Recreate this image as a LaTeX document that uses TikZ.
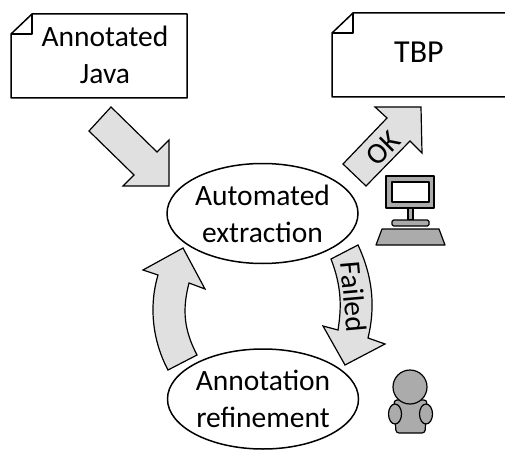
\documentclass[tikz,border=0pt]{standalone}
\usepackage{fontspec}
\setmainfont{Carlito}
\usepackage{xcolor}
\usetikzlibrary{shapes.geometric}
\definecolor{arrowgray}{HTML}{E0E0E0}
\definecolor{devicegray}{HTML}{ABABAB}
\begin{document}
\begin{tikzpicture}[
    x=1pt, y=-1pt,
    % GLOBAL CFG
    font=\fontsize{29.5}{37}\selectfont,
    line join=round,
    % Styles
    stage/.style={% For the two ovals
        ellipse,
        draw,
        line width=1.5pt,
        inner sep=0pt,
        minimum width=191pt,
        minimum height=100pt,
        align=center,
        },
    page/.style={% For the documents
        draw,
        line width=1.5pt,
        },
    pagetext/.style={% Text on a document
        align=center,
        inner sep=0pt,
        },
    bigarrow/.style={% Block arrows
        draw,
        fill=arrowgray,
        line width=1.2pt,
        miter limit=10,
        line join=miter,
        },
    device/.style={% Computer and user
        draw,
        fill=devicegray,
        line width=1.2pt,
        },
    ]
    \useasboundingbox (0,0) rectangle (505,449);

    % Documents
    \draw [page] (11,34) -- (32,14) -- (187,14) -- (187,98) -- (11,98) -- cycle;
    \draw [page] (11,34) -- (32,34) -- (32,14);
    \node [pagetext] (java) at (105,55) {Annotated\\Java};

    \draw [page] (505.5,13) -- (353,13) -- (332,33) -- (332,97) -- (505.5,97);
    \draw [page] (332,33) -- (353,33) -- (353,13);
    \node [pagetext, anchor=base, font=\fontsize{32}{37}\selectfont] (tbp) at (419,63) {TBP};

    % Block arrows
    \draw [bigarrow] (111,107) -- (157,152) -- (169,140) -- (169,186) -- (123,186) -- (134,175) -- (89,131) -- cycle;
    \draw [bigarrow] (343,164) -- (387,118) -- (375,107) -- (421,107) -- (422,153) -- (410,141) -- (366,186) -- cycle;
    \draw [bigarrow] (331,259) -- (358,245) .. controls (372,275) and (376,305) .. (368,338) -- (385,344) -- (345,365) -- (323,326) -- (338,330) .. controls (342,305) and (341,285) .. cycle;
    \draw [bigarrow] (168,370) .. controls (152,340) and (149,305) .. (158,275) -- (143,270) -- (183,248) -- (205,289) -- (189,283) .. controls (182,310) and (184,330) .. (197,355) -- cycle;

    % Arrow labels
    \node [inner sep=0pt, rotate=45] (ok) at (383,148) {OK};
    \node [inner sep=0pt, rotate=-85] (failed) at (354,297) {Failed};

    % Ovals
    \node [stage] (extract) at (262.5,213.5) {Automated\\extraction};
    \node [stage] (refine) at (263,399) {Annotation\\refinement};

    % Computer
    \draw [device] (386,176) rectangle (434,208);
    \draw [page, line width=1.2pt, fill=white] (392,182) rectangle (429,202);
    \draw [device] (408,208) rectangle (413,220);
    \draw [device, rounded corners=1.5pt] (392,220) rectangle (429,226);
    \draw [device] (382,229) -- (439,229) -- (445,245) -- (376,245) -- cycle;

    % User
    \draw [device, rounded corners=3pt] (394,400) -- (427,400) -- (425,433) -- (396,433) -- cycle;
    \draw [device] (395,414) ellipse [x radius=6.5, y radius=10];
    \draw [device] (426,414) ellipse [x radius=6.5, y radius=10];
    \draw [device] (410,387) circle [radius=17];
\end{tikzpicture}
\end{document}
